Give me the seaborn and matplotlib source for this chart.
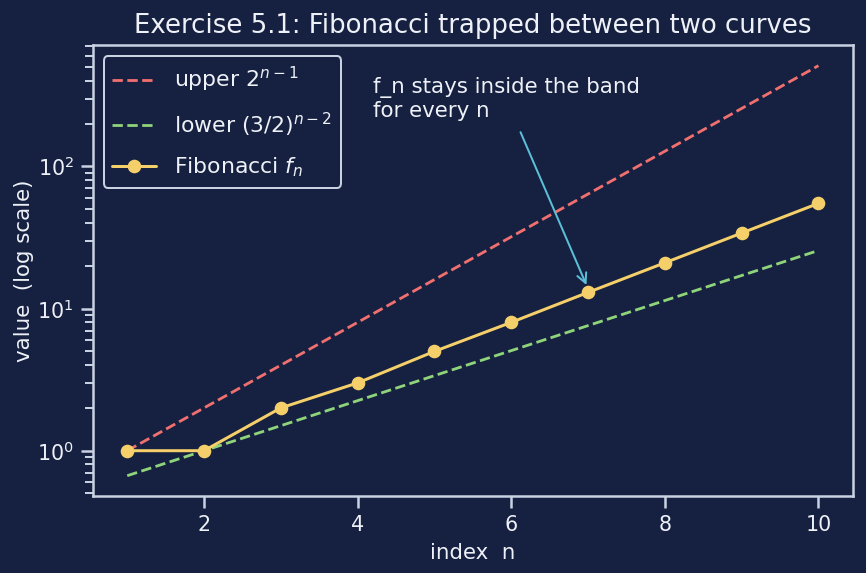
import seaborn as sns
import matplotlib.pyplot as plt
import pandas as pd

# Dữ liệu
n_vals = [1, 2, 3, 4, 5, 6, 7, 8, 9, 10]
upper_vals = [1, 2, 4, 8, 16, 32, 64, 128, 256, 512]
lower_vals = [0.667, 1.0, 1.5, 2.25, 3.375, 5.06, 7.59, 11.39, 17.09, 25.63]
fib_vals = [1, 1, 2, 3, 5, 8, 13, 21, 34, 55]

bg = "#162040"
fg = "#eef1f7"
spine_c = "#c9d2e3"

df = pd.DataFrame({"n": n_vals, "upper": upper_vals, "lower": lower_vals, "fib": fib_vals})

sns.set_theme(style="ticks")
plt.rcParams.update({
    "figure.facecolor": bg, "axes.facecolor": bg,
    "text.color": fg, "axes.labelcolor": fg,
    "xtick.color": spine_c, "ytick.color": spine_c,
    "xtick.labelcolor": fg, "ytick.labelcolor": fg,
    "axes.edgecolor": spine_c,
})
plt.rcParams['font.family'] = ['DejaVu Sans']

fig, ax = plt.subplots(figsize=(6.014, 3.98), dpi=144)

sns.lineplot(data=df, x="n", y="upper", ax=ax, color="#f07070", linestyle="--",
             linewidth=1.4, label=r"upper $2^{n-1}$")
sns.lineplot(data=df, x="n", y="lower", ax=ax, color="#8fd47a", linestyle="--",
             linewidth=1.4, label=r"lower $(3/2)^{n-2}$")
sns.lineplot(data=df, x="n", y="fib", ax=ax, color="#f5d06a", marker="o",
             markersize=6.8, markeredgewidth=0, linewidth=1.5, label=r"Fibonacci $f_n$")

ax.set_yscale("log")
ax.set_title("Exercise 5.1: Fibonacci trapped between two curves", fontsize=13, color=fg)
ax.set_xlabel("index  n", fontsize=10.7)
ax.set_ylabel("value  (log scale)", fontsize=10.7, labelpad=1.5)
ax.tick_params(labelsize=10.3)

ax.text(4.2, 430, "f_n stays inside the band\nfor every n", fontsize=10.7,
        ha="left", va="top", color=fg)
ax.annotate("", xy=(7, 13.8), xytext=(6.1, 185),
            arrowprops=dict(arrowstyle="->", color="#5bbfd8", lw=1.0))

leg = ax.legend(loc="upper left", fontsize=11, facecolor=bg, edgecolor=spine_c,
                framealpha=1, labelcolor=fg, labelspacing=0.75)

plt.subplots_adjust(left=0.107, right=0.985, top=0.921, bottom=0.134)
plt.savefig("out.png", dpi=144, facecolor=bg)
